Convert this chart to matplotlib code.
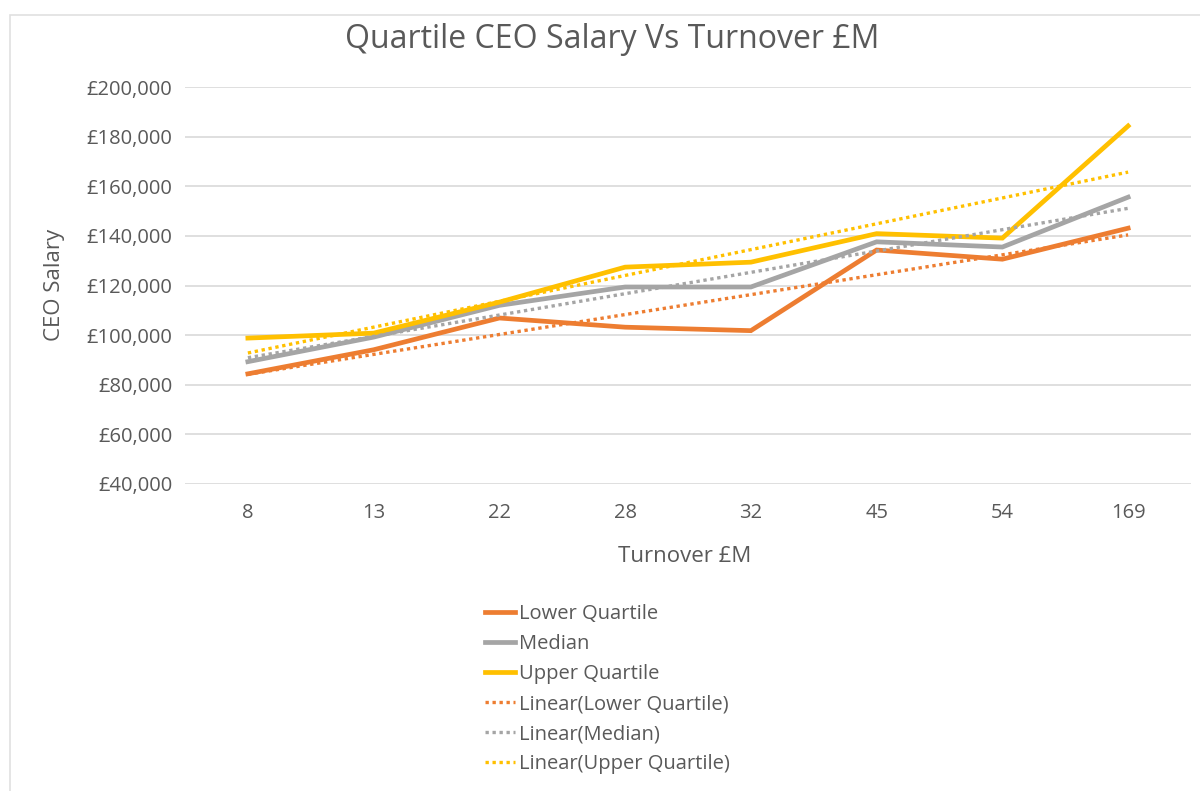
import matplotlib
matplotlib.use("Agg")
import matplotlib.pyplot as plt
import numpy as np
from matplotlib.ticker import FuncFormatter
from matplotlib.patches import Rectangle

categories = ["8", "13", "22", "28", "32", "45", "54", "169"]
lower_quartile = [84400, 94100, 106900, 103200, 101800, 134300, 130600, 143100]
median = [89300, 99200, 112000, 119400, 119400, 137600, 135500, 155600]
upper_quartile = [98800, 100800, 113300, 127400, 129400, 140900, 139100, 184300]
series_names = ["Lower Quartile", "Median", "Upper Quartile"]
y_ticks = [40000, 60000, 80000, 100000, 120000, 140000, 160000, 180000, 200000]

colors = ["#ED7D31", "#A5A5A5", "#FFC000"]
plt.rcParams['font.family'] = ['Open Sans', 'DejaVu Sans']

W, H = 1200, 791
fig = plt.figure(figsize=(W / 100, H / 100), dpi=100)
ax = fig.add_axes([185 / W, 1 - 484 / H, (1191 - 185) / W, (484 - 87) / H])

x = np.arange(len(categories))
data = [lower_quartile, median, upper_quartile]
handles = []
for vals, c, name in zip(data, colors, series_names):
    h, = ax.plot(x, vals, color=c, lw=3.4, solid_joinstyle='miter', zorder=3, label=name)
    handles.append(h)
for vals, c, name in zip(data, colors, series_names):
    m, b = np.polyfit(x, vals, 1)
    h, = ax.plot(x, m * x + b, color=c, lw=2.4, linestyle=(0, (1, 1.1)), zorder=4,
                 label=f"Linear({name})")
    handles.append(h)

ax.set_xlim(-0.5, len(categories) - 0.5)
ax.set_ylim(40000, 200000)
ax.set_yticks(y_ticks)
ax.yaxis.set_major_formatter(FuncFormatter(lambda v, p: f"£{int(v):,}"))
ax.set_xticks(x)
ax.set_xticklabels(categories)
ax.grid(axis='y', color='#D9D9D9', lw=1.2, zorder=0)
for s in ax.spines.values():
    s.set_visible(False)
ax.tick_params(axis='both', length=0, labelsize=14.5, colors='#595959')
ax.tick_params(axis='y', pad=9)
ax.tick_params(axis='x', pad=14)

fig.text(612 / W, 1 - 40 / H, "Quartile CEO Salary Vs Turnover £M", ha='center', va='center',
         fontsize=23, color='#595959')
fig.text(685 / W, 1 - 557 / H, "Turnover £M", ha='center', va='center', fontsize=16, color='#595959')
fig.text(55 / W, 1 - 285 / H, "CEO Salary", ha='center', va='center', rotation=90,
         fontsize=16, color='#595959')

leg = fig.legend(handles=handles, loc='upper left', bbox_to_anchor=(477 / W, 1 - 596 / H),
                 frameon=False, fontsize=14.5, labelcolor='#595959', handlelength=1.5,
                 handletextpad=0.2, labelspacing=0.5, borderaxespad=0)

fig.patches.append(Rectangle((10 / W, -0.1), 1.2, 1 - 15 / H + 0.1, transform=fig.transFigure,
                             fill=False, edgecolor='#E0E0E0', lw=1.2))

fig.savefig("out.png", dpi=100, facecolor='white')
